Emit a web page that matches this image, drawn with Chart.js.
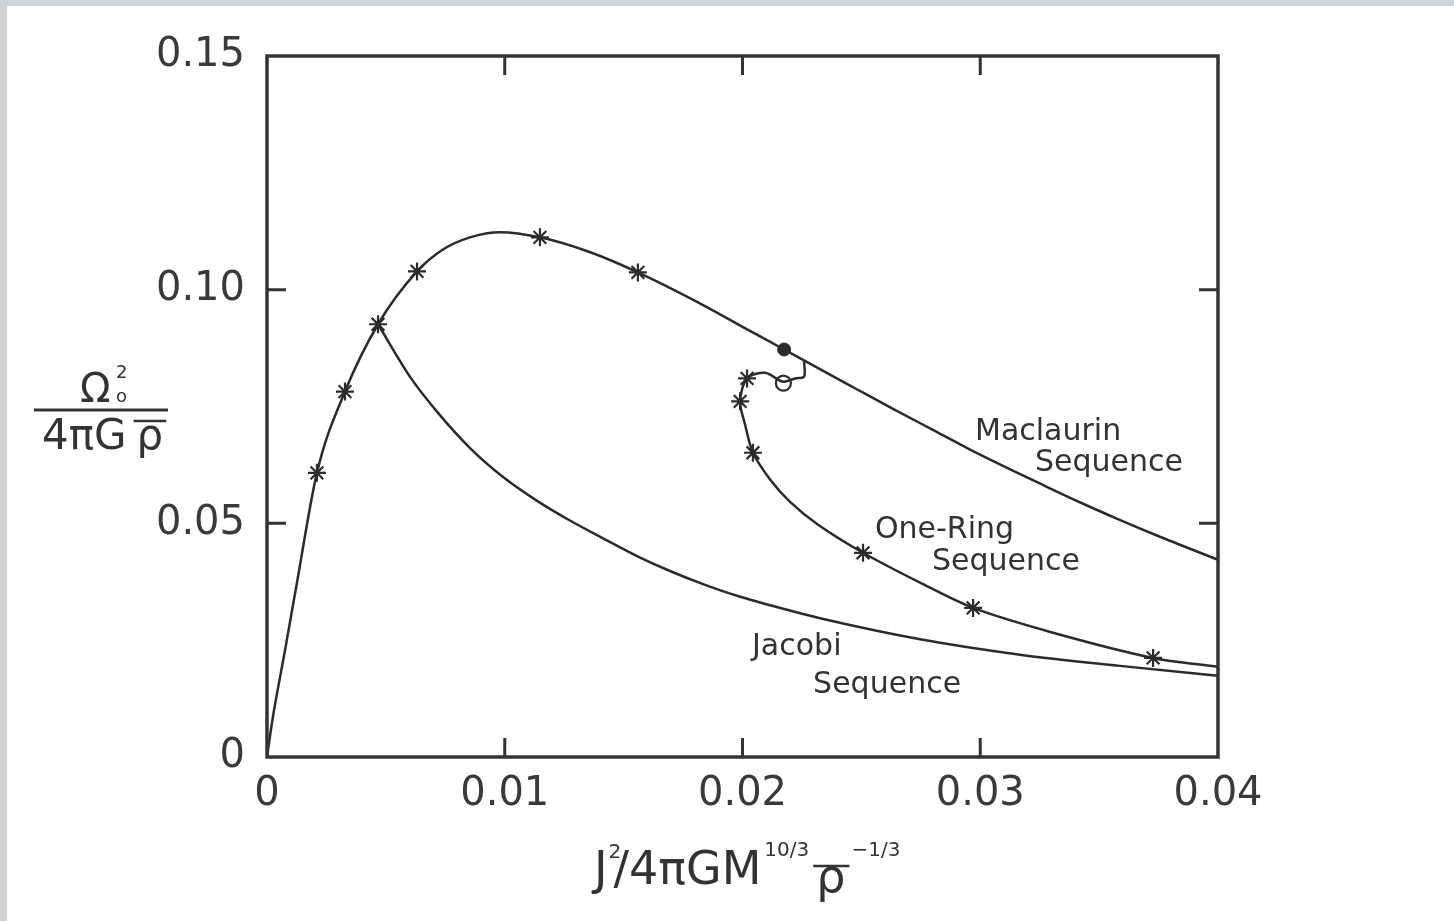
<!DOCTYPE html>
<html>
<head>
<meta charset="utf-8">
<script src="https://cdn.jsdelivr.net/npm/chart.js@4.4.1/dist/chart.umd.min.js"></script>
<style>
  html, body { margin: 0; padding: 0; background: #ffffff; }
  #wrap { width: 1454px; height: 921px; position: relative; }
</style>
</head>
<body>
<div id="wrap"><canvas id="c" width="1454" height="921"></canvas></div>
<script>
// ---- data ----
const xTicks = [0, 0.01, 0.02, 0.03, 0.04];
const xTickLabels = ["0", "0.01", "0.02", "0.03", "0.04"];
const yTicks = [0, 0.05, 0.10, 0.15];
const yTickLabels = ["0", "0.05", "0.10", "0.15"];

const maclaurinX = [0, 0.00025, 0.00076, 0.00126, 0.0021, 0.00328, 0.00467, 0.00631, 0.0074, 0.00854, 0.0098, 0.01148, 0.01371, 0.0156, 0.01842, 0.02002, 0.02175, 0.02318, 0.02477, 0.02633, 0.02793, 0.02953, 0.03108, 0.03268, 0.03428, 0.03584, 0.03743, 0.04];
const maclaurinY = [0, 0.0086, 0.0229, 0.0373, 0.0608, 0.0782, 0.0926, 0.1039, 0.1086, 0.1112, 0.1123, 0.1112, 0.1078, 0.1037, 0.0965, 0.0920, 0.0872, 0.0832, 0.0788, 0.0745, 0.0702, 0.0659, 0.0620, 0.0581, 0.0543, 0.0508, 0.0474, 0.0422];
const maclaurinStarX = [0.0021, 0.00328, 0.00467, 0.00631, 0.01148, 0.0156];
const maclaurinStarY = [0.0608, 0.0782, 0.0926, 0.1039, 0.1112, 0.1037];

const jacobiX = [0.00467, 0.00601, 0.00715, 0.00854, 0.00993, 0.01136, 0.01274, 0.01413, 0.01556, 0.01695, 0.01834, 0.01977, 0.02187, 0.02326, 0.02747, 0.03167, 0.03588, 0.04];
const jacobiY = [0.0926, 0.0814, 0.0739, 0.0661, 0.0599, 0.0548, 0.0506, 0.0468, 0.0430, 0.0398, 0.0370, 0.0345, 0.0315, 0.0297, 0.0252, 0.0219, 0.0195, 0.0174];

const oneRingX = [0.02259, 0.02259, 0.02221, 0.0217, 0.02095, 0.02019, 0.0199, 0.02011, 0.02044, 0.02116, 0.0220, 0.02318, 0.02507, 0.02747, 0.0297, 0.03306, 0.03727, 0.04];
const oneRingY = [0.0848, 0.0814, 0.0810, 0.0803, 0.0822, 0.0810, 0.0761, 0.0711, 0.0651, 0.0594, 0.0546, 0.0497, 0.0437, 0.0373, 0.0319, 0.0266, 0.0212, 0.0193];
const oneRingStarX = [0.02019, 0.0199, 0.02044, 0.02507, 0.0297, 0.03727];
const oneRingStarY = [0.0810, 0.0761, 0.0651, 0.0437, 0.0319, 0.0212];

const filledDotX = [0.02175];
const filledDotY = [0.0872];
const openCircleX = [0.02172];
const openCircleY = [0.0800];

const seqLabels = [
  { lines: ["Maclaurin", "Sequence"], x1: 0.02978, y1: 0.0696, x2: 0.0323, y2: 0.0628 },
  { lines: ["One-Ring", "Sequence"], x1: 0.02557, y1: 0.0486, x2: 0.02797, y2: 0.0416 },
  { lines: ["Jacobi", "Sequence"], x1: 0.0204, y1: 0.0236, x2: 0.02297, y2: 0.0154 }
];

const pts = (xs, ys) => xs.map((x, i) => ({ x: x, y: ys[i] }));

// ---- styling ----
const INK = '#2b2b2b';
const FONT = '"DejaVu Sans", sans-serif';

const framePlugin = {
  id: 'frame',
  beforeDraw(chart) {
    const ctx = chart.ctx;
    ctx.save();
    ctx.fillStyle = '#ffffff';
    ctx.fillRect(0, 0, chart.width, chart.height);
    ctx.fillStyle = '#cfd3d6';
    ctx.fillRect(0, 0, chart.width, 6);
    ctx.fillRect(0, 0, 7, chart.height);
    ctx.restore();
  },
  afterDatasetsDraw(chart) {
    const ctx = chart.ctx;
    const a = chart.chartArea;
    const xs = chart.scales.x, ys = chart.scales.y;
    ctx.save();
    // frame
    ctx.strokeStyle = '#333333';
    ctx.lineWidth = 3.5;
    ctx.strokeRect(a.left, a.top, a.right - a.left, a.bottom - a.top);
    // inward ticks
    ctx.lineWidth = 3;
    const tl = 19;
    xTicks.forEach(v => {
      if (v <= xs.min || v >= xs.max) return;
      const px = xs.getPixelForValue(v);
      ctx.beginPath();
      ctx.moveTo(px, a.bottom); ctx.lineTo(px, a.bottom - tl);
      ctx.moveTo(px, a.top); ctx.lineTo(px, a.top + tl);
      ctx.stroke();
    });
    yTicks.forEach(v => {
      if (v <= ys.min || v >= ys.max) return;
      const py = ys.getPixelForValue(v);
      ctx.beginPath();
      ctx.moveTo(a.left, py); ctx.lineTo(a.left + tl, py);
      ctx.moveTo(a.right, py); ctx.lineTo(a.right - tl, py);
      ctx.stroke();
    });
    // sequence labels
    ctx.fillStyle = '#333333';
    ctx.font = '30px ' + FONT;
    ctx.textBaseline = 'middle';
    ctx.textAlign = 'left';
    seqLabels.forEach(l => {
      ctx.fillText(l.lines[0], xs.getPixelForValue(l.x1), ys.getPixelForValue(l.y1));
      ctx.fillText(l.lines[1], xs.getPixelForValue(l.x2), ys.getPixelForValue(l.y2));
    });

    // y axis title: fraction
    ctx.fillStyle = '#333333';
    ctx.strokeStyle = '#333333';
    const fy = 410;
    ctx.lineWidth = 3;
    ctx.beginPath(); ctx.moveTo(34, fy); ctx.lineTo(168, fy); ctx.stroke();
    ctx.textAlign = 'left';
    ctx.textBaseline = 'alphabetic';
    ctx.font = '40px ' + FONT;
    ctx.fillText('Ω', 80, fy - 8);
    ctx.font = '18px ' + FONT;
    ctx.fillText('2', 116, fy - 32);
    ctx.fillText('o', 116, fy - 8);
    ctx.font = '42px ' + FONT;
    ctx.fillText('4πG', 42, fy + 39);
    const w4 = ctx.measureText('4πG').width;
    const rx = 42 + w4 + 10;
    ctx.fillText('ρ', rx, fy + 39);
    const wr = ctx.measureText('ρ').width;
    ctx.lineWidth = 2.5;
    ctx.beginPath(); ctx.moveTo(rx - 3, fy + 11); ctx.lineTo(rx + wr + 3, fy + 11); ctx.stroke();

    // x axis title
    let x0 = 594;
    const by = 884;
    ctx.font = '46px ' + FONT;
    ctx.fillText('J', x0, by);
    const wJ = ctx.measureText('J').width;
    ctx.font = '20px ' + FONT;
    ctx.fillText('2', x0 + wJ + 1, by - 26);
    ctx.font = '46px ' + FONT;
    ctx.fillText('/4πGM', x0 + wJ + 6, by);
    x0 += wJ + 6 + ctx.measureText('/4πGM').width;
    ctx.font = '20px ' + FONT;
    ctx.fillText('10/3', x0 + 3, by - 28);
    x0 += ctx.measureText('10/3').width + 6;
    ctx.font = '46px ' + FONT;
    const wp = ctx.measureText('ρ').width;
    ctx.fillText('ρ', x0 + 4, by + 8);
    ctx.lineWidth = 2.5;
    ctx.beginPath(); ctx.moveTo(x0 + 1, by - 18); ctx.lineTo(x0 + 8 + wp, by - 18); ctx.stroke();
    x0 += wp + 10;
    ctx.font = '20px ' + FONT;
    ctx.fillText('−1/3', x0, by - 28);
    ctx.restore();
  }
};

const lineDs = (label, data, mono) => ({
  label: label,
  data: data,
  showLine: true,
  borderColor: INK,
  borderWidth: 2.5,
  pointRadius: 0,
  tension: 0.3,
  cubicInterpolationMode: mono ? 'monotone' : 'default',
  fill: false
});

new Chart(document.getElementById('c'), {
  type: 'scatter',
  data: {
    datasets: [
      lineDs('Maclaurin Sequence', pts(maclaurinX, maclaurinY), true),
      lineDs('Jacobi Sequence', pts(jacobiX, jacobiY), true),
      lineDs('One-Ring Sequence', pts(oneRingX, oneRingY), false),
      {
        label: 'stars',
        data: pts(maclaurinStarX, maclaurinStarY).concat(pts(oneRingStarX, oneRingStarY)),
        showLine: false,
        pointStyle: 'star',
        pointRadius: 9,
        borderColor: INK,
        borderWidth: 2.2,
        backgroundColor: INK
      },
      {
        label: 'filled',
        data: pts(filledDotX, filledDotY),
        showLine: false,
        pointStyle: 'circle',
        pointRadius: 6.5,
        borderColor: INK,
        backgroundColor: INK
      },
      {
        label: 'open',
        data: pts(openCircleX, openCircleY),
        showLine: false,
        pointStyle: 'circle',
        pointRadius: 7.5,
        borderWidth: 2.2,
        borderColor: INK,
        backgroundColor: '#ffffff'
      },
      {
        label: 'open-cross',
        data: pts(openCircleX, openCircleY),
        showLine: false,
        pointStyle: 'cross',
        pointRadius: 4,
        borderWidth: 1.8,
        borderColor: INK
      }
    ]
  },
  options: {
    responsive: false,
    animation: false,
    layout: { padding: { top: 56, right: 236, left: 0, bottom: 0 } },
    plugins: { legend: { display: false }, tooltip: { enabled: false } },
    scales: {
      x: {
        type: 'linear',
        min: 0, max: 0.04,
        afterBuildTicks(s) { s.ticks = xTicks.map(v => ({ value: v })); },
        afterFit(s) { s.height = 164; },
        grid: { display: false, drawTicks: false },
        border: { display: false },
        ticks: {
          padding: 14,
          color: '#3a3a3a',
          font: { family: FONT, size: 40 },
          callback: (v) => { const i = xTicks.indexOf(v); return i >= 0 ? xTickLabels[i] : ''; }
        }
      },
      y: {
        type: 'linear',
        min: 0, max: 0.15,
        afterBuildTicks(s) { s.ticks = yTicks.map(v => ({ value: v })); },
        afterFit(s) { s.width = 267; },
        grid: { display: false, drawTicks: false },
        border: { display: false },
        ticks: {
          padding: 22,
          color: '#3a3a3a',
          font: { family: FONT, size: 40 },
          callback: (v) => { const i = yTicks.findIndex(t => Math.abs(t - v) < 1e-9); return i >= 0 ? yTickLabels[i] : ''; }
        }
      }
    }
  },
  plugins: [framePlugin]
});
</script>
</body>
</html>
